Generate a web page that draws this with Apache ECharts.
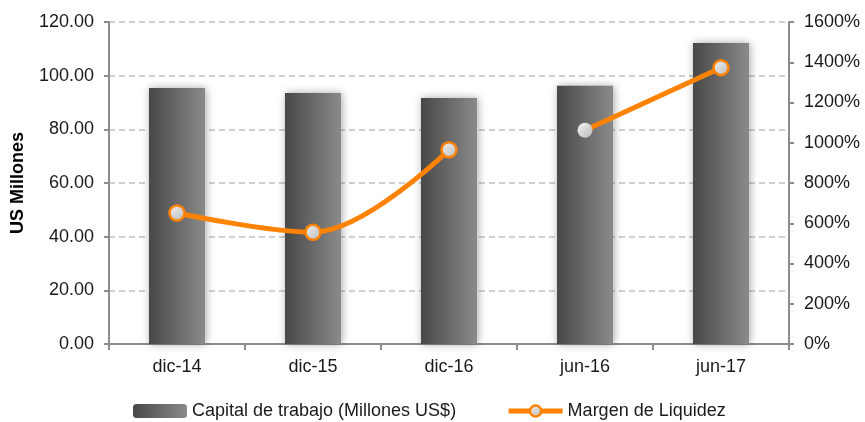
<!DOCTYPE html>
<html>
<head>
<meta charset="utf-8">
<script src="https://cdn.jsdelivr.net/npm/echarts@6/dist/echarts.min.js"></script>
<style>
html, body { margin: 0; padding: 0; background: #fff; }
#chart { width: 865px; height: 422px; }
</style>
</head>
<body>
<div id="chart"></div>
<script>
var categories = ['dic-14', 'dic-15', 'dic-16', 'jun-16', 'jun-17'];
var capital = [95.4, 93.5, 91.7, 96.2, 112.2];
// margin values in %; the source line is broken between dic-16 and jun-16
var margenA = [651, 555, 965, null, null];
var margenB = [null, null, null, 1062, 1373];

var chart = echarts.init(document.getElementById('chart'));

var barGrad = new echarts.graphic.LinearGradient(0, 0, 1, 0, [
	{ offset: 0, color: '#484848' },
	{ offset: 1, color: '#8a8a8a' }
]);
var markGrad = new echarts.graphic.LinearGradient(0, 0, 1, 1, [
	{ offset: 0, color: '#f4f4f4' },
	{ offset: 1, color: '#b8b8b8' }
]);
var orange = '#ff8200';
var txt = { color: '#1a1a1a', fontSize: 18, fontFamily: 'Liberation Sans, Arial, sans-serif' };

function lineSeries(data) {
	return {
		name: 'Margen de Liquidez',
		type: 'line',
		yAxisIndex: 1,
		smooth: 0.35,
		symbol: 'circle',
		symbolSize: 15,
		connectNulls: false,
		lineStyle: { color: orange, width: 5 },
		itemStyle: { color: markGrad, borderColor: orange, borderWidth: 2.5 },
		z: 5,
		data: data
	};
}

var lineB = lineSeries(margenB.map(function (v, i) {
	// jun-16 marker has no orange border in the source
	if (i === 3) return { value: v, itemStyle: { borderWidth: 0 } };
	return v;
}));

chart.setOption({
	animation: false,
	grid: { left: 109, right: 76, top: 22, bottom: 78 },
	legend: {
		top: 402,
		left: 133,
		padding: 0,
		itemGap: 50,
		itemWidth: 54,
		itemHeight: 14,
		textStyle: txt,
		data: [
			{ name: 'Capital de trabajo (Millones US$)', itemStyle: { color: barGrad, shadowBlur: 0 } },
			{
				name: 'Margen de Liquidez',
				lineStyle: { color: orange, width: 5 },
				itemStyle: { color: markGrad, borderColor: orange, borderWidth: 2.5 }
			}
		]
	},
	xAxis: {
		type: 'category',
		data: categories,
		axisLine: { lineStyle: { color: '#8c8c8c', width: 2 } },
		axisTick: { show: true, length: 6, lineStyle: { color: '#8c8c8c', width: 2 } },
		axisLabel: Object.assign({ margin: 14 }, txt)
	},
	yAxis: [
		{
			type: 'value',
			min: 0,
			max: 120,
			interval: 20,
			name: 'US Millones',
			nameLocation: 'middle',
			nameRotate: 90,
			nameGap: 82,
			nameTextStyle: { color: '#000', fontSize: 18, fontWeight: 'bold', fontFamily: 'Liberation Sans, Arial, sans-serif' },
			axisLine: { show: true, lineStyle: { color: '#8c8c8c', width: 2 } },
			axisTick: { show: true, length: 5, lineStyle: { color: '#8c8c8c', width: 2 } },
			axisLabel: Object.assign({ margin: 15, formatter: function (v) { return v.toFixed(2); } }, txt),
			splitLine: { show: true, lineStyle: { color: '#d0d0d0', type: [6, 4], width: 2 } }
		},
		{
			type: 'value',
			min: 0,
			max: 1600,
			interval: 200,
			axisLine: { show: true, lineStyle: { color: '#8c8c8c', width: 2 } },
			axisTick: { show: true, length: 5, lineStyle: { color: '#8c8c8c', width: 2 } },
			axisLabel: Object.assign({ margin: 15, formatter: function (v) { return v + '%'; } }, txt),
			splitLine: { show: false }
		}
	],
	series: [
		{
			name: 'Capital de trabajo (Millones US$)',
			type: 'bar',
			barWidth: 56,
			itemStyle: {
				color: barGrad,
				shadowBlur: 8,
				shadowColor: 'rgba(0,0,0,0.35)',
				shadowOffsetX: 1,
				shadowOffsetY: 0
			},
			z: 3,
			data: capital
		},
		lineSeries(margenA),
		lineB
	]
});
</script>
</body>
</html>
